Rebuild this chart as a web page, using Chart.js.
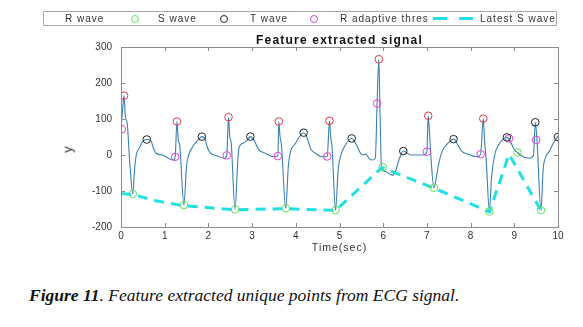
<!DOCTYPE html>
<html>
<head>
<meta charset="utf-8">
<script src="https://cdn.jsdelivr.net/npm/chart.js@4.4.0/dist/chart.umd.min.js"></script>
<style>
  body { margin: 0; background: #fff; width: 583px; height: 327px; overflow: hidden; position: relative; font-family: Arial, "Liberation Sans", sans-serif; }
  #wrap { position: absolute; left: 0; top: 0; width: 583px; height: 260px; }
  .lbl { position: absolute; color: #222; white-space: nowrap; }
  #legend { position: absolute; left: 43px; top: 11px; width: 514px; height: 15px; border: 1px solid #aaa; box-sizing: border-box; }
  #legend span { position: absolute; top: 1px; font-size: 10px; letter-spacing: 1px; color: #333; }
  #legend i { position: absolute; top: 3px; width: 6px; height: 6px; border-radius: 50%; border: 1px solid; }
  #legend b { position: absolute; top: 5px; height: 3px; width: 14px; background: #22e0e0; }
  #title { left: 0; width: 679px; text-align: center; top: 33px; font-size: 12px; font-weight: bold; letter-spacing: 1.2px; color: #111; }
  #ylab { left: 64px; top: 142px; font-size: 13px; transform: rotate(-90deg); color: #333; }
  #xlab { left: 0; width: 679px; text-align: center; top: 241px; font-size: 10.5px; letter-spacing: 1px; color: #333; }
  #caption { position: absolute; left: 29px; top: 285px; font-family: "Liberation Serif", "DejaVu Serif", serif; font-style: italic; font-size: 17.5px; color: #111; white-space: nowrap; }
</style>
</head>
<body>
<div id="wrap"><canvas id="chart" width="583" height="260"></canvas></div>

<div id="legend">
  <span style="left:21px">R wave</span>
  <i style="left:87px; border-color:#5ee05e"></i>
  <span style="left:114px">S wave</span>
  <i style="left:176px; border-color:#222"></i>
  <span style="left:206px">T wave</span>
  <i style="left:266px; border-color:#e040e0"></i>
  <span style="left:296px">R adaptive thres</span>
  <b style="left:389px"></b>
  <b style="left:415px"></b>
  <span style="left:436px">Latest S wave</span>
</div>
<div id="title" class="lbl">Feature extracted signal</div>
<div id="ylab" class="lbl">y</div>
<div id="xlab" class="lbl">Time(sec)</div>
<div id="caption"><b>Figure 11</b>. Feature extracted unique points from ECG signal.</div>

<script>
// ECG trace
const ecgX = [0.00, 0.04, 0.07, 0.10, 0.14, 0.20, 0.27, 0.31, 0.35, 0.42, 0.50, 0.59, 0.68, 0.74, 0.80, 0.95, 1.10, 1.20,
  1.24, 1.28, 1.31, 1.34, 1.44, 1.50, 1.55, 1.65, 1.75, 1.85, 1.92, 1.98, 2.05, 2.20, 2.38,
  2.42, 2.46, 2.49, 2.52, 2.61, 2.67, 2.70, 2.78, 2.88, 2.96, 3.05, 3.15, 3.30, 3.50,
  3.59, 3.61, 3.64, 3.67, 3.77, 3.83, 3.88, 3.98, 4.08, 4.18, 4.25, 4.35, 4.45, 4.60,
  4.72, 4.77, 4.80, 4.83, 4.91, 4.97, 5.02, 5.12, 5.28, 5.38, 5.48, 5.56, 5.60, 5.68, 5.75, 5.82,
  5.86, 5.90, 5.93, 5.96, 6.05, 6.21, 6.28, 6.36, 6.46, 6.55, 6.63, 6.93,
  7.00, 7.03, 7.06, 7.10, 7.16, 7.22, 7.26, 7.35, 7.50, 7.61, 7.70, 7.80, 7.95, 8.15,
  8.23, 8.29, 8.32, 8.36, 8.43, 8.48, 8.55, 8.65, 8.75, 8.83, 8.90, 9.00, 9.07, 9.20, 9.35,
  9.44, 9.48, 9.52, 9.61, 9.66, 9.72, 9.80, 9.90, 10.0];
const ecgY = [72, 130, 165, 105, 90, -20, -108, -40, 0, 20, 38, 43, 40, 20, 5, 0, -10, -14,
  -5, 93, 40, 30, -139, -30, 0, 25, 40, 51, 45, 20, 5, -2, -10,
  -1, 105, 50, 35, -151, -20, 20, 32, 40, 51, 40, 15, 5, -5,
  -3, 93, 50, 30, -148, -30, 10, 30, 50, 62, 50, 15, 5, -5,
  -4, 95, 50, 20, -153, -40, -5, 25, 46, 30, 5, 0, 3, -10, -14, -9,
  143, 266, 100, -32, -46, -56, -46, -14, 11, 5, 0, 0,
  9, 109, 60, -20, -91, -60, -30, 10, 35, 44, 30, 10, 2, -5,
  2, 101, 40, -20, -157, -60, 0, 30, 45, 49, 40, 15, 7, -5, -9,
  0, 91, 40, -153, -40, -5, 10, 35, 53];

const rWaveX = [0.07, 1.28, 2.46, 3.61, 4.77, 5.90, 7.03, 8.29];
const rWaveY = [165, 93, 105, 93, 95, 266, 109, 101];

const sWaveX = [0.27, 1.44, 2.61, 3.77, 4.91, 5.99, 7.16, 8.43, 9.07, 9.61];
const sWaveY = [-108, -139, -151, -148, -153, -34, -91, -157, 7, -153];

const tWaveX = [0.59, 1.85, 2.96, 4.18, 5.28, 6.46, 7.61, 8.83, 9.48, 10.0];
const tWaveY = [43, 51, 51, 62, 46, 11, 44, 49, 91, 50];

const threshX = [0.02, 1.24, 2.42, 3.59, 4.72, 5.86, 7.00, 8.23, 8.88, 9.50];
const threshY = [72, -5, -1, -3, -4, 143, 9, 2, 46, 42];

const latestSX = [0.00, 0.27, 0.80, 1.44, 2.61, 3.77, 4.91, 5.97, 7.16, 8.43, 8.88, 9.60];
const latestSY = [-107, -110, -127, -141, -152, -149, -154, -35, -92, -158, 2, -152];

const xTicks = [0, 1, 2, 3, 4, 5, 6, 7, 8, 9, 10];
const yTicks = [-200, -100, 0, 100, 200, 300];

const pts = (xs, ys) => xs.map((x, i) => ({ x, y: ys[i] }));

function markers(xs, ys, color) {
  return {
    data: pts(xs, ys),
    showLine: false,
    pointStyle: 'circle',
    pointRadius: 3.8,
    pointBorderWidth: 1,
    pointBorderColor: color,
    pointBackgroundColor: 'rgba(0,0,0,0)'
  };
}

// MATLAB style frame with inward ticks
const framePlugin = {
  id: 'frame',
  afterDraw(chart) {
    const { ctx, chartArea: a, scales } = chart;
    ctx.save();
    ctx.strokeStyle = '#8a8a8a';
    ctx.lineWidth = 1;
    ctx.strokeRect(a.left + 0.5, a.top + 0.5, a.right - a.left, a.bottom - a.top);
    ctx.beginPath();
    xTicks.forEach(v => {
      const px = Math.round(scales.x.getPixelForValue(v)) + 0.5;
      ctx.moveTo(px, a.bottom); ctx.lineTo(px, a.bottom - 4);
      ctx.moveTo(px, a.top); ctx.lineTo(px, a.top + 4);
    });
    yTicks.forEach(v => {
      const py = Math.round(scales.y.getPixelForValue(v)) + 0.5;
      ctx.moveTo(a.left, py); ctx.lineTo(a.left + 4, py);
      ctx.moveTo(a.right, py); ctx.lineTo(a.right - 4, py);
    });
    ctx.stroke();
    ctx.restore();
  }
};

new Chart(document.getElementById('chart'), {
  type: 'scatter',
  data: {
    datasets: [
      markers(rWaveX, rWaveY, '#e8354a'),
      markers(sWaveX, sWaveY, '#5ee05e'),
      markers(tWaveX, tWaveY, '#222222'),
      markers(threshX, threshY, '#e040e0'),
      {
        data: pts(latestSX, latestSY),
        showLine: true,
        borderColor: '#22e0e0',
        borderWidth: 3,
        borderDash: [10, 7],
        pointRadius: 0,
        tension: 0
      },
      {
        data: pts(ecgX, ecgY),
        showLine: true,
        borderColor: '#3a80b2',
        borderWidth: 1.1,
        pointRadius: 0,
        cubicInterpolationMode: 'monotone'
      }
    ]
  },
  options: {
    responsive: false,
    animation: false,
    layout: { padding: { left: 85, right: 25, top: 47, bottom: 0 } },
    plugins: { legend: { display: false }, tooltip: { enabled: false } },
    scales: {
      x: {
        type: 'linear', min: 0, max: 10,
        afterBuildTicks: s => { s.ticks = xTicks.map(value => ({ value })); },
        afterFit: s => { s.height = 33; },
        grid: { display: false, drawTicks: false },
        border: { display: false },
        ticks: { padding: 3, color: '#333', font: { size: 10, family: 'Arial' } }
      },
      y: {
        min: -200, max: 300,
        afterBuildTicks: s => { s.ticks = yTicks.map(value => ({ value })); },
        afterFit: s => { s.width = 36; },
        grid: { display: false, drawTicks: false },
        border: { display: false },
        ticks: { padding: 9, color: '#333', font: { size: 10, family: 'Arial' } }
      }
    }
  },
  plugins: [framePlugin]
});
</script>
</body>
</html>
